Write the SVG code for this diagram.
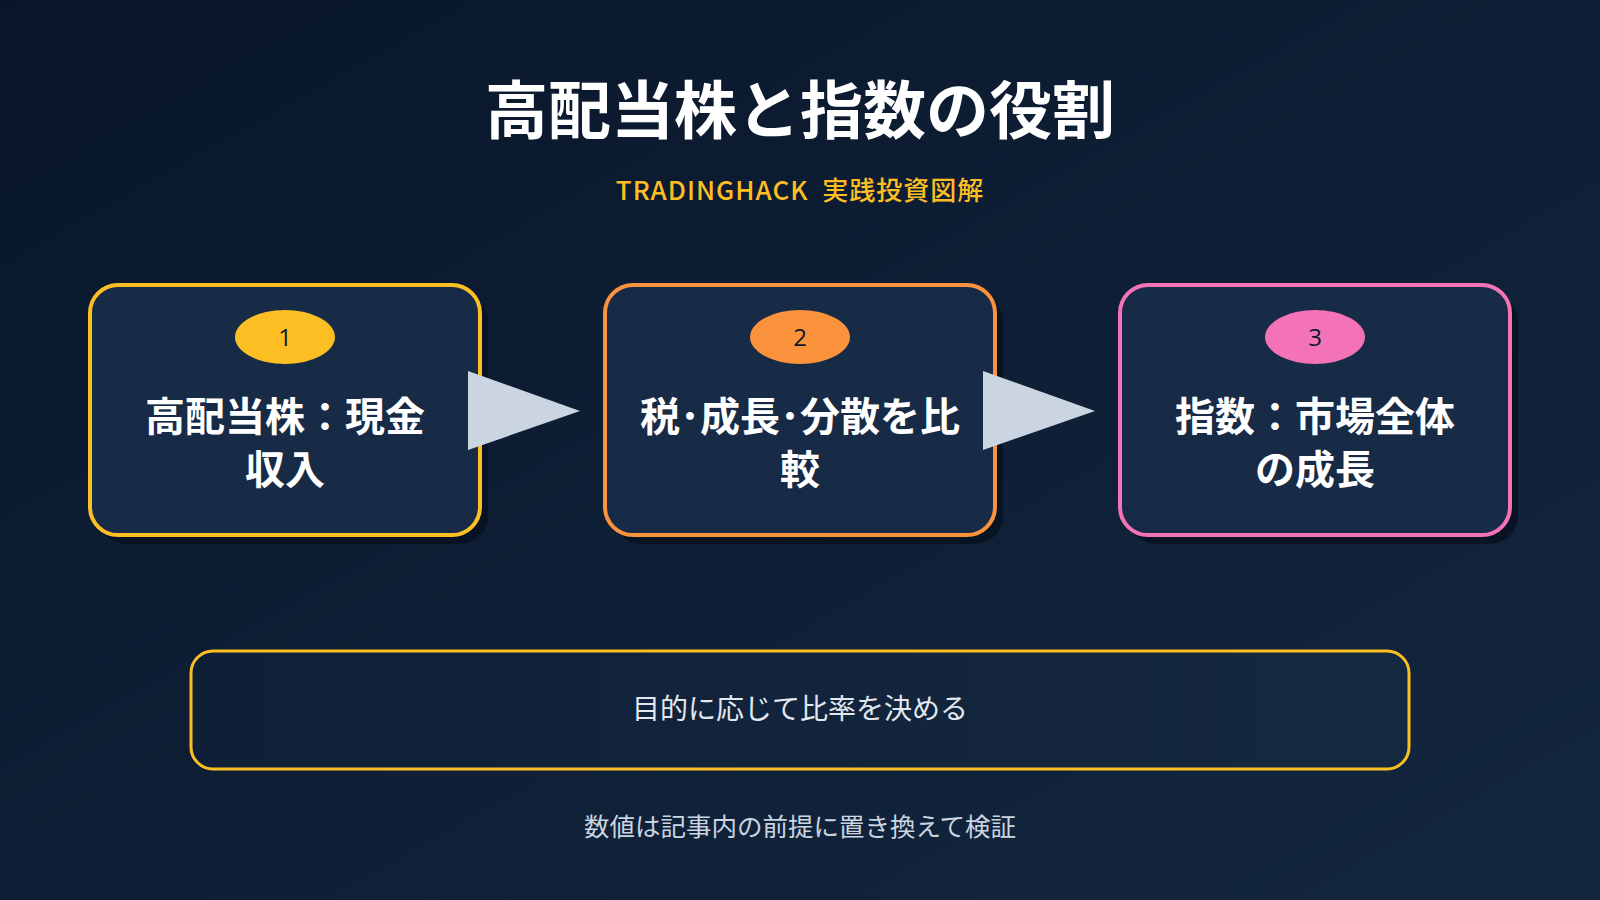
<svg xmlns="http://www.w3.org/2000/svg" width="1600" height="900" viewBox="0 0 1600 900">
<defs>
<linearGradient id="bg" x1="0" y1="0" x2="1" y2="1">
<stop offset="0" stop-color="#09162a"/>
<stop offset="1" stop-color="#13273f"/>
</linearGradient>
<linearGradient id="note" x1="0" y1="0" x2="1" y2="0">
<stop offset="0" stop-color="#0f1f38"/>
<stop offset="1" stop-color="#15293f"/>
</linearGradient>
<style>
.jp{font-family:"Noto Sans CJK JP","Noto Sans",sans-serif;}
.title{font-size:63px;font-weight:700;fill:#ffffff;text-anchor:middle;}
.sub{font-size:26px;font-weight:500;letter-spacing:1px;fill:#fbbf24;text-anchor:middle;white-space:pre;}
.card{fill:#172a46;stroke-width:4;}
.shadow{fill:#06101e;opacity:0.75;}
.label{font-size:40px;font-weight:700;fill:#ffffff;text-anchor:middle;}
.num{font-family:"Open Sans","Noto Sans",sans-serif;font-size:24px;fill:#0f172a;text-anchor:middle;}
.arrow{fill:#cbd5e1;}
.notetxt{font-size:28px;fill:#e2e8f0;text-anchor:middle;}
.foot{font-size:25.5px;fill:#cbd5e1;text-anchor:middle;}
</style>
</defs>
<rect x="0" y="0" width="1600" height="900" fill="url(#bg)"/>
<text class="jp title" x="800" y="133">高配当株と指数の役割</text>
<text class="jp sub" x="800" y="200" xml:space="preserve">TRADINGHACK  実践投資図解</text>

<g id="node1">
<rect class="shadow" x="98" y="294" width="390" height="250" rx="28"/>
<rect class="card" x="90" y="285" width="390" height="250" rx="28" stroke="#fbbf24"/>
<ellipse cx="285" cy="337" rx="50" ry="27" fill="#fbbf24"/>
<text class="num" x="285" y="346">1</text>
<text class="jp label" x="285" y="431">高配当株：現金</text>
<text class="jp label" x="285" y="484">収入</text>
</g>
<g id="node2">
<rect class="shadow" x="613" y="294" width="390" height="250" rx="28"/>
<rect class="card" x="605" y="285" width="390" height="250" rx="28" stroke="#fb923c"/>
<ellipse cx="800" cy="337" rx="50" ry="27" fill="#fb923c"/>
<text class="num" x="800" y="346">2</text>
<text class="jp label" x="800" y="431">税･成長･分散を比</text>
<text class="jp label" x="800" y="484">較</text>
</g>
<g id="node3">
<rect class="shadow" x="1128" y="294" width="390" height="250" rx="28"/>
<rect class="card" x="1120" y="285" width="390" height="250" rx="28" stroke="#f472b6"/>
<ellipse cx="1315" cy="337" rx="50" ry="27" fill="#f472b6"/>
<text class="num" x="1315" y="346">3</text>
<text class="jp label" x="1315" y="431">指数：市場全体</text>
<text class="jp label" x="1315" y="484">の成長</text>
</g>

<g id="connectors">
<polygon class="arrow" points="468,371 580,411 468,450"/>
<polygon class="arrow" points="983,371 1095,411 983,450"/>
</g>

<g id="note">
<rect x="191" y="651" width="1218" height="118" rx="22" fill="url(#note)" stroke="#fbbf24" stroke-width="3"/>
<text class="jp notetxt" x="800" y="719">目的に応じて比率を決める</text>
</g>
<text class="jp foot" x="800" y="836">数値は記事内の前提に置き換えて検証</text>
</svg>
